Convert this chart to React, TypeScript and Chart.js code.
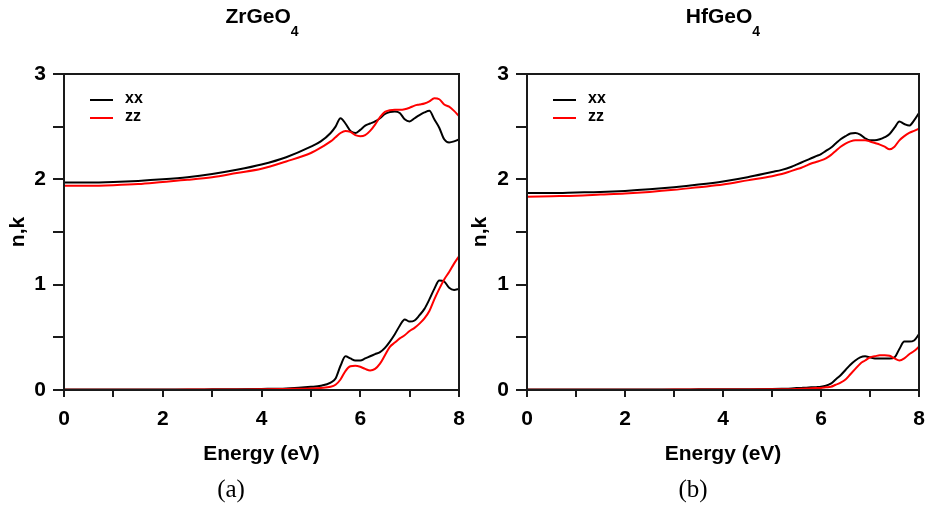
import React, { useEffect, useRef } from 'react';
import { Chart, registerables } from 'chart.js';

Chart.register(...registerables);

// Photon energy grid (eV)
const energy = [0, 0.5, 1, 1.5, 2, 2.5, 3, 3.5, 4, 4.5, 5, 5.2, 5.4, 5.5, 5.6, 5.7, 5.8, 5.9, 6.0, 6.1, 6.2, 6.3, 6.4, 6.5, 6.6, 6.7, 6.8, 6.9, 7.0, 7.1, 7.2, 7.3, 7.4, 7.5, 7.6, 7.7, 7.8, 7.9, 8.0];

// ZrGeO4 refractive index n and extinction coefficient k
const zrN_xx = [1.97, 1.97, 1.975, 1.985, 2.0, 2.02, 2.05, 2.09, 2.14, 2.21, 2.31, 2.36, 2.44, 2.5, 2.58, 2.53, 2.46, 2.44, 2.47, 2.51, 2.53, 2.55, 2.58, 2.62, 2.64, 2.645, 2.63, 2.57, 2.55, 2.58, 2.61, 2.635, 2.65, 2.57, 2.49, 2.38, 2.35, 2.36, 2.38];
const zrN_zz = [1.94, 1.94, 1.945, 1.955, 1.975, 1.995, 2.02, 2.06, 2.1, 2.17, 2.25, 2.3, 2.36, 2.4, 2.44, 2.46, 2.45, 2.42, 2.41, 2.42, 2.46, 2.52, 2.59, 2.64, 2.655, 2.66, 2.66, 2.665, 2.68, 2.7, 2.71, 2.72, 2.74, 2.77, 2.76, 2.71, 2.69, 2.65, 2.6];
const zrK_xx = [0.005, 0.005, 0.005, 0.005, 0.005, 0.005, 0.006, 0.007, 0.01, 0.015, 0.03, 0.04, 0.07, 0.11, 0.23, 0.32, 0.3, 0.28, 0.28, 0.3, 0.32, 0.34, 0.36, 0.4, 0.46, 0.53, 0.61, 0.67, 0.65, 0.66, 0.71, 0.77, 0.86, 0.96, 1.04, 1.03, 0.97, 0.95, 0.96];
const zrK_zz = [0.003, 0.003, 0.003, 0.003, 0.003, 0.004, 0.004, 0.005, 0.006, 0.01, 0.015, 0.02, 0.03, 0.05, 0.1, 0.18, 0.225, 0.23, 0.22, 0.2, 0.185, 0.2, 0.25, 0.33, 0.41, 0.45, 0.49, 0.52, 0.56, 0.59, 0.63, 0.68, 0.75, 0.86, 0.96, 1.05, 1.12, 1.2, 1.27];

// HfGeO4 refractive index n and extinction coefficient k
const hfN_xx = [1.87, 1.87, 1.875, 1.88, 1.89, 1.905, 1.925, 1.95, 1.98, 2.02, 2.07, 2.09, 2.12, 2.14, 2.16, 2.18, 2.2, 2.22, 2.24, 2.27, 2.3, 2.34, 2.38, 2.41, 2.435, 2.44, 2.425, 2.39, 2.37, 2.37, 2.38, 2.4, 2.43, 2.49, 2.55, 2.525, 2.51, 2.56, 2.63];
const hfN_zz = [1.835, 1.84, 1.845, 1.855, 1.865, 1.88, 1.9, 1.925, 1.95, 1.99, 2.03, 2.05, 2.08, 2.095, 2.11, 2.13, 2.15, 2.165, 2.18, 2.2, 2.23, 2.27, 2.31, 2.34, 2.36, 2.37, 2.37, 2.37, 2.36, 2.345, 2.33, 2.31, 2.285, 2.31, 2.37, 2.41, 2.44, 2.46, 2.48];
const hfK_xx = [0.004, 0.004, 0.004, 0.004, 0.004, 0.005, 0.005, 0.006, 0.007, 0.008, 0.01, 0.012, 0.015, 0.018, 0.02, 0.022, 0.025, 0.027, 0.03, 0.04, 0.06, 0.1, 0.14, 0.19, 0.24, 0.28, 0.31, 0.32, 0.31, 0.3, 0.3, 0.3, 0.3, 0.31, 0.39, 0.46, 0.46, 0.47, 0.53];
const hfK_zz = [0.003, 0.003, 0.003, 0.003, 0.003, 0.003, 0.004, 0.004, 0.005, 0.005, 0.006, 0.007, 0.008, 0.01, 0.012, 0.014, 0.016, 0.018, 0.02, 0.025, 0.03, 0.05, 0.07, 0.1, 0.15, 0.2, 0.25, 0.28, 0.31, 0.32, 0.33, 0.33, 0.325, 0.3, 0.28, 0.3, 0.34, 0.37, 0.41];

const seriesLabels = ['xx', 'zz'];
const seriesColors = ['#000000', '#ff0000'];
const xLabel = 'Energy (eV)';
const yLabel = 'n,k';

const SANS = '"Liberation Sans", Arial, Helvetica, sans-serif';
const FRAME = '#1a1a1a';

const framePlugin = {
  id: 'frameBox',
  afterDatasetsDraw(chart: any) {
    const { ctx, chartArea } = chart;
    ctx.save();
    ctx.strokeStyle = FRAME;
    ctx.lineWidth = 2;
    ctx.strokeRect(chartArea.left, chartArea.top, chartArea.right - chartArea.left, chartArea.bottom - chartArea.top);
    ctx.restore();
  },
};

const legendPlugin = {
  id: 'innerLegend',
  afterDatasetsDraw(chart: any) {
    const { ctx, chartArea } = chart;
    ctx.save();
    seriesLabels.forEach((lab, i) => {
      const y = chartArea.top + 26 + i * 18;
      ctx.strokeStyle = seriesColors[i];
      ctx.lineWidth = 2;
      ctx.beginPath();
      ctx.moveTo(chartArea.left + 26, y);
      ctx.lineTo(chartArea.left + 49, y);
      ctx.stroke();
      ctx.fillStyle = '#000';
      ctx.font = `bold 16px ${SANS}`;
      ctx.textBaseline = 'middle';
      ctx.textAlign = 'left';
      ctx.fillText(lab, chartArea.left + 61, y - 1);
    });
    ctx.restore();
  },
};

type PanelProps = {
  left: number;
  width: number;
  yWidth: number;
  rightPad: number;
  nXX: number[];
  nZZ: number[];
  kXX: number[];
  kZZ: number[];
};

function Panel({ left, width, yWidth, rightPad, nXX, nZZ, kXX, kZZ }: PanelProps) {
  const ref = useRef<HTMLCanvasElement | null>(null);
  useEffect(() => {
    if (!ref.current) return;
    const pts = (arr: number[]) => energy.map((e, i) => ({ x: e, y: arr[i] }));
    const ds = (arr: number[], idx: number) => ({
      label: seriesLabels[idx],
      data: pts(arr),
      borderColor: seriesColors[idx],
      backgroundColor: seriesColors[idx],
      borderWidth: 2,
      pointRadius: 0,
      fill: false,
      cubicInterpolationMode: 'monotone' as const,
      order: idx === 1 ? 0 : 1,
    });
    const tickFont = { family: SANS, size: 21, weight: 'bold' as const };
    const chart = new Chart(ref.current, {
      type: 'line',
      data: { datasets: [ds(nZZ, 1), ds(kZZ, 1), ds(nXX, 0), ds(kXX, 0)] },
      options: {
        responsive: false,
        animation: false,
        layout: { padding: { left: 0, top: 74, right: rightPad, bottom: 0 } },
        plugins: { legend: { display: false }, tooltip: { enabled: false }, title: { display: false } },
        scales: {
          x: {
            type: 'linear',
            min: 0,
            max: 8,
            ticks: {
              stepSize: 1,
              autoSkip: false,
              maxRotation: 0,
              padding: 10,
              color: '#000',
              font: tickFont,
              callback: (v: any) => (Number(v) % 2 === 0 ? String(v) : ''),
            },
            grid: { drawOnChartArea: false, drawTicks: true, tickLength: 7, tickWidth: 2, tickColor: FRAME, color: FRAME, lineWidth: 2 },
            border: { display: false },
            title: { display: true, text: xLabel, color: '#000', font: tickFont, padding: { top: 0, bottom: 40 } },
            afterFit: (s: any) => {
              s.height = 117;
              s.paddingLeft = 0;
              s.paddingRight = 0;
            },
          },
          y: {
            type: 'linear',
            min: 0,
            max: 3,
            ticks: {
              stepSize: 0.5,
              autoSkip: false,
              padding: 7,
              color: '#000',
              font: tickFont,
              callback: (v: any) => (Number.isInteger(Number(v)) ? String(v) : ''),
            },
            grid: { drawOnChartArea: false, drawTicks: true, tickLength: 11, tickWidth: 2, tickColor: FRAME, color: FRAME, lineWidth: 2 },
            border: { display: false },
            title: { display: true, text: yLabel, color: '#000', font: tickFont, padding: { top: 6, bottom: 0 } },
            afterFit: (s: any) => {
              s.width = yWidth;
              s.paddingTop = 0;
              s.paddingBottom = 0;
            },
          },
        },
      } as any,
      plugins: [framePlugin, legendPlugin],
    });
    return () => chart.destroy();
  }, []);
  return (
    <canvas
      ref={ref}
      width={width}
      height={507}
      style={{ position: 'absolute', left, top: 0, width, height: 507 }}
    />
  );
}

function Title({ center, main }: { center: number; main: string }) {
  return (
    <div
      style={{
        position: 'absolute',
        left: center - 150,
        width: 300,
        top: 5,
        textAlign: 'center',
        fontFamily: SANS,
        fontWeight: 'bold',
        fontSize: 21,
        lineHeight: '21px',
        color: '#000',
        whiteSpace: 'nowrap',
      }}
    >
      {main}
      <span style={{ fontSize: 14, position: 'relative', top: 13 }}>4</span>
    </div>
  );
}

function Caption({ center, text }: { center: number; text: string }) {
  return (
    <div
      style={{
        position: 'absolute',
        left: center - 50,
        width: 100,
        top: 476,
        textAlign: 'center',
        fontFamily: '"Liberation Serif", "Times New Roman", serif',
        fontSize: 25,
        lineHeight: '25px',
        color: '#000',
      }}
    >
      {text}
    </div>
  );
}

export default function App() {
  return (
    <div style={{ position: 'absolute', left: 0, top: 0, width: 925, height: 507, background: '#fff', overflow: 'hidden' }}>
      <Panel left={0} width={474} yWidth={64} rightPad={15} nXX={zrN_xx} nZZ={zrN_zz} kXX={zrK_xx} kZZ={zrK_zz} />
      <Panel left={462} width={463} yWidth={65} rightPad={6} nXX={hfN_xx} nZZ={hfN_zz} kXX={hfK_xx} kZZ={hfK_zz} />
      <Title center={262} main="ZrGeO" />
      <Title center={723} main="HfGeO" />
      <Caption center={231} text="(a)" />
      <Caption center={693} text="(b)" />
    </div>
  );
}
